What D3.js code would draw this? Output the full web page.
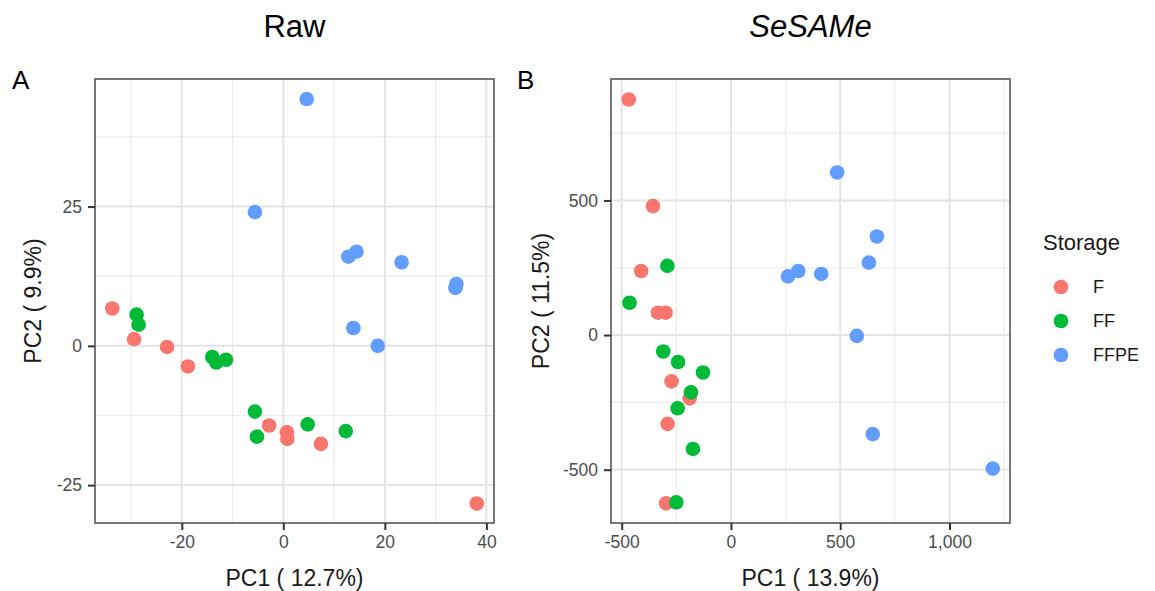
<!DOCTYPE html>
<html>
<head>
<meta charset="utf-8">
<script src="https://cdn.jsdelivr.net/npm/d3@7"></script>
<style>
  body { margin: 0; background: #fff; }
  svg { display: block; font-family: "Liberation Sans", Arial, Helvetica, sans-serif; }
</style>
</head>
<body>
<svg id="chart" width="1155" height="591"></svg>
<script>
// ---- Data ----
const storageLevels = ["F", "FF", "FFPE"];
const storageColors = ["#F8766D", "#00BA38", "#619CFF"];

// Panel A: Raw  (PC1, PC2)
const rawF = [[-33.7, 6.7], [-29.4, 1.2], [-22.9, -0.2], [-18.8, -3.7], [-2.8, -14.3], [0.7, -15.5], [0.8, -16.7], [7.4, -17.6], [38.1, -28.3]];
const rawFF = [[-28.9, 5.6], [-28.5, 3.8], [-14.0, -2.0], [-13.2, -3.0], [-11.3, -2.5], [-5.6, -11.8], [-5.2, -16.3], [4.8, -14.1], [12.3, -15.3]];
const rawFFPE = [[4.6, 44.3], [-5.6, 24.0], [12.8, 16.0], [14.4, 16.9], [23.3, 15.0], [34.1, 11.1], [33.9, 10.4], [13.8, 3.2], [18.6, 0.0]];

// Panel B: SeSAMe (PC1, PC2)
const sesameF = [[-468, 875], [-357, 479], [-411, 238], [-334, 83], [-299, 83], [-272, -172], [-189, -235], [-290, -330], [-297, -625]];
const sesameFF = [[-291, 257], [-464, 120], [-310, -61], [-242, -100], [-128, -139], [-183, -213], [-244, -272], [-174, -423], [-250, -621]];
const sesameFFPE = [[486, 604], [668, 366], [631, 269], [261, 218], [308, 238], [413, 227], [576, -3], [649, -368], [1198, -496]];

const rawXTicks = [-20, 0, 20, 40];
const rawYTicks = [-25, 0, 25];
const sesameXTicks = [-500, 0, 500, 1000];
const sesameYTicks = [-500, 0, 500];

const panels = [
  {
    letter: "A", title: "Raw", italic: false,
    xLabel: "PC1 ( 12.7%)", yLabel: "PC2 ( 9.9%)",
    groups: [rawF, rawFF, rawFFPE],
    xDomain: [-37.1, 41.5], yDomain: [-31.8, 47.9],
    xTicks: rawXTicks, yTicks: rawYTicks,
    xMinor: [-30, -10, 10, 30], yMinor: [-12.5, 12.5, 37.5],
    left: 95, right: 494, letterX: 12, yLabelX: 33
  },
  {
    letter: "B", title: "SeSAMe", italic: true,
    xLabel: "PC1 ( 13.9%)", yLabel: "PC2 ( 11.5%)",
    groups: [sesameF, sesameFF, sesameFFPE],
    xDomain: [-549, 1277], yDomain: [-698, 951],
    xTicks: sesameXTicks, yTicks: sesameYTicks,
    xMinor: [-250, 250, 750, 1250], yMinor: [-250, 250, 750],
    left: 611, right: 1010, letterX: 517, yLabelX: 541
  }
];

const svg = d3.select("#chart");
const plotTop = 79, plotBottom = 523;
const fmt = d => d3.format(",")(d).replace("\u2212", "-");

panels.forEach(p => {
  const x = d3.scaleLinear().domain(p.xDomain).range([p.left, p.right]);
  const y = d3.scaleLinear().domain(p.yDomain).range([plotBottom, plotTop]);
  const g = svg.append("g");

  // minor grid
  g.append("g").selectAll("line").data(p.xMinor).join("line")
    .attr("x1", d => x(d)).attr("x2", d => x(d)).attr("y1", plotTop).attr("y2", plotBottom)
    .attr("stroke", "#EBEBEB").attr("stroke-width", 1.2);
  g.append("g").selectAll("line").data(p.yMinor).join("line")
    .attr("y1", d => y(d)).attr("y2", d => y(d)).attr("x1", p.left).attr("x2", p.right)
    .attr("stroke", "#EBEBEB").attr("stroke-width", 1.2);
  // major grid
  g.append("g").selectAll("line").data(p.xTicks).join("line")
    .attr("x1", d => x(d)).attr("x2", d => x(d)).attr("y1", plotTop).attr("y2", plotBottom)
    .attr("stroke", "#E4E4E4").attr("stroke-width", 2);
  g.append("g").selectAll("line").data(p.yTicks).join("line")
    .attr("y1", d => y(d)).attr("y2", d => y(d)).attr("x1", p.left).attr("x2", p.right)
    .attr("stroke", "#E4E4E4").attr("stroke-width", 2);

  // points
  p.groups.forEach((pts, i) => {
    g.append("g").selectAll("circle").data(pts).join("circle")
      .attr("cx", d => x(d[0])).attr("cy", d => y(d[1])).attr("r", 7.3)
      .attr("fill", storageColors[i]);
  });

  // border
  g.append("rect").attr("x", p.left).attr("y", plotTop)
    .attr("width", p.right - p.left).attr("height", plotBottom - plotTop)
    .attr("fill", "none").attr("stroke", "#555").attr("stroke-width", 1.6);

  // axes
  const xAxis = d3.axisBottom(x).tickValues(p.xTicks).tickFormat(fmt).tickSize(7).tickPadding(6);
  const yAxis = d3.axisLeft(y).tickValues(p.yTicks).tickFormat(fmt).tickSize(7).tickPadding(6);
  const gx = g.append("g").attr("transform", `translate(0,${plotBottom})`).call(xAxis);
  const gy = g.append("g").attr("transform", `translate(${p.left},0)`).call(yAxis);
  [gx, gy].forEach(a => {
    a.select(".domain").remove();
    a.selectAll(".tick line").attr("stroke", "#333").attr("stroke-width", 2);
    a.selectAll(".tick text").attr("fill", "#4D4D4D").attr("font-size", 17.5)
      .attr("font-family", "Liberation Sans, Arial, sans-serif");
  });

  // axis titles
  g.append("text").attr("x", (p.left + p.right) / 2).attr("y", 586)
    .attr("text-anchor", "middle").attr("font-size", 23).attr("fill", "#1a1a1a").text(p.xLabel);
  g.append("text").attr("transform", `translate(${p.yLabelX},${(plotTop + plotBottom) / 2}) rotate(-90)`)
    .attr("text-anchor", "middle").attr("dy", "0.35em").attr("font-size", 23).attr("fill", "#1a1a1a").text(p.yLabel);

  // panel title and letter
  g.append("text").attr("x", (p.left + p.right) / 2).attr("y", 37)
    .attr("text-anchor", "middle").attr("font-size", 31)
    .attr("font-style", p.italic ? "italic" : "normal").attr("fill", "#000").text(p.title);
  g.append("text").attr("x", p.letterX).attr("y", 89)
    .attr("font-size", 26).attr("fill", "#000").text(p.letter);
});

// legend
const lg = svg.append("g");
lg.append("text").attr("x", 1043).attr("y", 250).attr("font-size", 22).attr("fill", "#1a1a1a").text("Storage");
const legendY = d3.scalePoint().domain(storageLevels).range([287, 355]);
storageLevels.forEach((s, i) => {
  lg.append("circle").attr("cx", 1061).attr("cy", legendY(s)).attr("r", 7.3).attr("fill", storageColors[i]);
  lg.append("text").attr("x", 1093).attr("y", legendY(s)).attr("dy", "0.35em")
    .attr("font-size", 18).attr("fill", "#1a1a1a").text(s);
});
</script>
</body>
</html>
